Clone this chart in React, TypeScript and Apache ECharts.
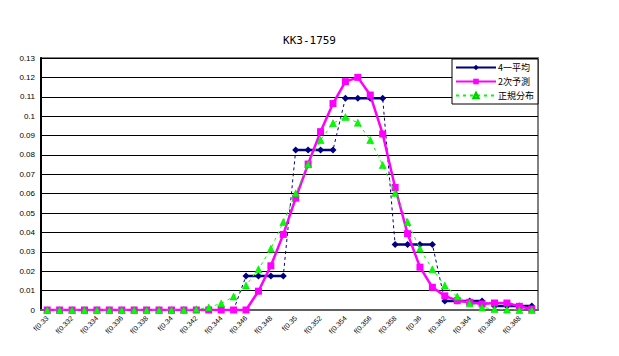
import React, { useEffect, useRef } from "react";
import * as echarts from "echarts";

const categories: string[] = [
  "f(0.33", "f(0.331", "f(0.332", "f(0.333", "f(0.334", "f(0.335", "f(0.336", "f(0.337",
  "f(0.338", "f(0.339", "f(0.34", "f(0.341", "f(0.342", "f(0.343", "f(0.344", "f(0.345",
  "f(0.346", "f(0.347", "f(0.348", "f(0.349", "f(0.35", "f(0.351", "f(0.352", "f(0.353",
  "f(0.354", "f(0.355", "f(0.356", "f(0.357", "f(0.358", "f(0.359", "f(0.36", "f(0.361",
  "f(0.362", "f(0.363", "f(0.364", "f(0.365", "f(0.366", "f(0.367", "f(0.368", "f(0.369",
];

// 4一平均 (4-point average)
const avg4: number[] = [
  0, 0, 0, 0, 0, 0, 0, 0,
  0, 0, 0, 0, 0, 0, 0, 0,
  0.0175, 0.0175, 0.0175, 0.0175,
  0.0825, 0.0825, 0.0825, 0.0825,
  0.1093, 0.1093, 0.1093, 0.1093,
  0.0338, 0.0338, 0.0338, 0.0338,
  0.0047, 0.0047, 0.0047, 0.0047,
  0.002, 0.002, 0.002, 0.002,
];

// 2次予測
const pred2: number[] = [
  0, 0, 0, 0, 0, 0, 0, 0,
  0, 0, 0, 0, 0, 0, 0, 0,
  0, 0.0097, 0.0228, 0.039, 0.0577, 0.0753, 0.092, 0.1065,
  0.1178, 0.12, 0.1109, 0.0908, 0.0632, 0.0394, 0.0221, 0.0117,
  0.0073, 0.0048, 0.004, 0.0031, 0.0036, 0.0036, 0.0019, 0.0005,
];

// 正規分布
const normal: number[] = [
  0, 0, 0, 0, 0, 0, 0, 0,
  0, 0, 0, 0.0001, 0.0004, 0.0013, 0.0034, 0.0069,
  0.0127, 0.021, 0.0316, 0.0454, 0.0602, 0.0752, 0.0877, 0.0964,
  0.0995, 0.0966, 0.0877, 0.0748, 0.0604, 0.0454, 0.0316, 0.021,
  0.0126, 0.0069, 0.0035, 0.0013, 0.0005, 0.0002, 0, 0,
];

// groups of the 4-point average drawn as solid segments
const avgGroups: number[][] = [
  [16, 19], [20, 23], [24, 27], [28, 31], [32, 35], [36, 39],
];

const NAVY = "#000080";
const MAGENTA = "#ff00ff";
const GREEN = "#00ff00";

export default function App() {
  const ref = useRef<HTMLDivElement>(null);

  useEffect(() => {
    if (!ref.current) return;
    const chart = echarts.init(ref.current, undefined, { renderer: "svg" });

    const groupSeries = avgGroups.map(([a, b]) => ({
      name: "4一平均",
      type: "line",
      data: avg4.map((v, i) => (i >= a && i <= b ? v : null)),
      connectNulls: false,
      symbol: "diamond",
      symbolSize: 7,
      showAllSymbol: true,
      itemStyle: { color: NAVY },
      lineStyle: { color: NAVY, width: 2.5 },
      z: 2,
    }));

    chart.setOption({
      animation: false,
      backgroundColor: "#fff",
      title: {
        text: "KK3-1759",
        left: "center",
        top: 30,
        textStyle: {
          fontFamily: "DejaVu Sans Mono",
          fontSize: 11,
          fontWeight: "normal",
          color: "#000",
        },
      },
      legend: {
        orient: "vertical",
        left: 452,
        top: 59,
        padding: [4, 4, 4, 3],
        itemGap: 5,
        itemWidth: 40,
        itemHeight: 7,
        backgroundColor: "#fff",
        borderColor: "#000",
        borderWidth: 1,
        textStyle: {
          fontFamily: "Noto Sans CJK JP",
          fontSize: 9,
          lineHeight: 9,
          color: "#000",
          padding: [0, 0, 0, -3],
        },
        data: ["4一平均", "2次予測", "正規分布"],
      },
      grid: {
        left: 41,
        right: 81,
        top: 58,
        bottom: 46,
        show: true,
        borderColor: "#808080",
        borderWidth: 2,
      },
      xAxis: {
        type: "category",
        data: categories,
        boundaryGap: true,
        axisLine: { lineStyle: { color: "#606060", width: 2 } },
        axisTick: { interval: 0, length: 3, lineStyle: { color: "#000" } },
        axisLabel: {
          interval: 1,
          rotate: 45,
          fontSize: 7,
          margin: 7,
          color: "#000",
          fontFamily: "Liberation Sans",
        },
        splitLine: { show: false },
      },
      yAxis: {
        type: "value",
        min: 0,
        max: 0.13,
        interval: 0.01,
        axisLine: { show: true, lineStyle: { color: "#000", width: 2 } },
        axisTick: { show: false },
        axisLabel: {
          fontSize: 8,
          color: "#000",
          margin: 6,
          fontFamily: "Liberation Sans",
          formatter: (v: number) => String(parseFloat(v.toFixed(2))),
        },
        splitLine: { show: true, lineStyle: { color: "#000", width: 1 } },
      },
      series: [
        ...groupSeries,
        {
          name: "4一平均",
          type: "line",
          data: avg4,
          symbol: "none",
          lineStyle: { color: NAVY, width: 1, type: [3, 3] },
          itemStyle: { color: NAVY },
          z: 1,
        },
        {
          name: "2次予測",
          type: "line",
          data: pred2,
          symbol: "rect",
          symbolSize: 7,
          showAllSymbol: true,
          itemStyle: { color: MAGENTA },
          lineStyle: { color: MAGENTA, width: 2.5 },
          z: 3,
        },
        {
          name: "正規分布",
          type: "line",
          data: normal,
          symbol: "triangle",
          symbolSize: 7,
          showAllSymbol: true,
          itemStyle: { color: GREEN, borderColor: "#00cc00", borderWidth: 0.5 },
          lineStyle: { color: GREEN, width: 1, type: [3, 4] },
          z: 4,
        },
      ],
    });

    return () => chart.dispose();
  }, []);

  return (
    <div
      ref={ref}
      style={{ position: "fixed", left: 0, top: 0, width: 619, height: 356 }}
    />
  );
}
